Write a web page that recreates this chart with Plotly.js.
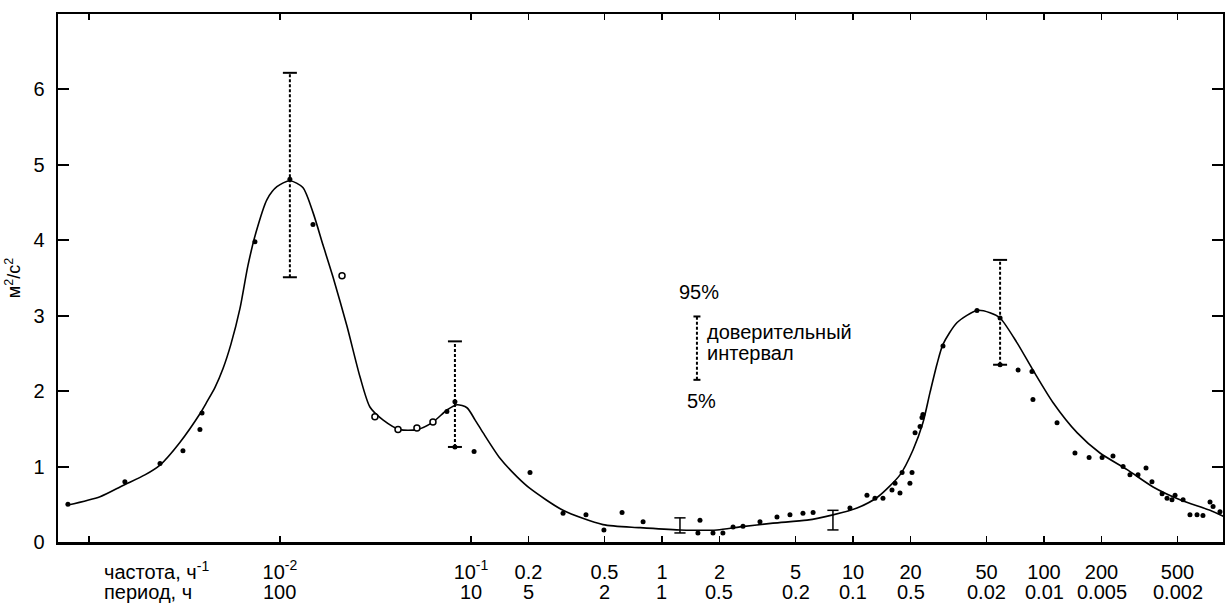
<!DOCTYPE html>
<html><head><meta charset="utf-8">
<script src="https://cdn.plot.ly/plotly-3.0.1.min.js"></script>
<style>html,body{margin:0;padding:0;background:#fff}#chart{width:1225px;height:603px}</style>
</head><body><div id="chart"></div>
<script>
// x axis: frequency, cycles per hour (log scale)
const tickVals = [0.001, 0.01, 0.1, 0.2, 0.5, 1, 2, 5, 10, 20, 50, 100, 200, 500];
const freqLabels = ['', '10<sup>-2</sup>', '10<sup>-1</sup>', '0.2', '0.5', '1', '2', '5', '10', '20', '50', '100', '200', '500'];
const periodLabels = ['', '100', '10', '5', '2', '1', '0.5', '0.2', '0.1', '0.5', '0.02', '0.01', '0.005', '0.002'];
const yTicks = [0, 1, 2, 3, 4, 5, 6];

// smooth spectrum curve
const curveF = [0.000776, 0.001143, 0.001507, 0.001963, 0.002355, 0.002992, 0.003811, 0.004150, 0.004571, 0.005035, 0.005534, 0.006180, 0.006792, 0.007482, 0.008551, 0.009638, 0.01127, 0.01318, 0.01489, 0.01679, 0.01892, 0.02244, 0.02624, 0.02958, 0.03459, 0.04246, 0.05212, 0.06324, 0.07482, 0.08453, 0.09528, 0.1050, 0.1156, 0.1419, 0.1749, 0.2037, 0.3034, 0.4909, 0.7674, 1.242, 1.941, 2.559, 3.811, 5.741, 7.852, 10.50, 13.52, 17.62, 20.61, 23.23, 25.29, 27.54, 29.58, 35.08, 44.57, 52.12, 58.88, 72.28, 87.50, 111.4, 148.9, 196.3, 272.3, 372.4, 515.2, 739.6, 887];
const curveV = [0.49, 0.60, 0.75, 0.89, 1.02, 1.32, 1.70, 1.86, 2.05, 2.30, 2.62, 3.10, 3.66, 4.10, 4.54, 4.71, 4.79, 4.70, 4.37, 3.94, 3.52, 2.86, 2.19, 1.79, 1.62, 1.49, 1.49, 1.59, 1.75, 1.82, 1.78, 1.62, 1.45, 1.11, 0.86, 0.71, 0.42, 0.23, 0.19, 0.16, 0.16, 0.20, 0.25, 0.29, 0.36, 0.45, 0.60, 0.89, 1.22, 1.58, 1.98, 2.36, 2.62, 2.91, 3.07, 3.04, 2.97, 2.64, 2.28, 1.85, 1.45, 1.18, 0.96, 0.73, 0.56, 0.42, 0.33];

// measured spectral estimates (filled)
const pointF = [0.000776, 0.001542, 0.002355, 0.003105, 0.003811, 0.003908, 0.007396, 0.01127, 0.01489, 0.07482, 0.08241, 0.08241, 0.1038, 0.2037, 0.3034, 0.3999, 0.4966, 0.6180, 0.7962, 1.581, 1.542, 1.849, 2.084, 2.355, 2.655, 3.258, 4.000, 4.677, 5.470, 6.180, 9.638, 11.83, 13.03, 14.35, 16.00, 16.60, 17.62, 18.07, 19.86, 20.37, 21.13, 22.44, 22.96, 23.23, 29.58, 44.57, 58.88, 58.88, 73.11, 86.50, 87.50, 117.0, 145.2, 172.2, 201.4, 229.6, 259.4, 281.8, 310.5, 342.0, 367.3, 415.0, 440.6, 467.7, 485.3, 534.6, 580.8, 632.4, 679.2, 739.6, 767.4, 833.7];
const pointV = [0.50, 0.80, 1.04, 1.21, 1.49, 1.71, 3.98, 4.81, 4.21, 1.73, 1.86, 1.26, 1.20, 0.92, 0.38, 0.36, 0.16, 0.39, 0.27, 0.29, 0.12, 0.12, 0.12, 0.20, 0.21, 0.27, 0.33, 0.36, 0.38, 0.39, 0.45, 0.62, 0.58, 0.58, 0.69, 0.78, 0.65, 0.92, 0.78, 0.92, 1.45, 1.53, 1.65, 1.69, 2.60, 3.07, 2.97, 2.35, 2.28, 2.26, 1.89, 1.58, 1.18, 1.12, 1.12, 1.14, 1.00, 0.89, 0.89, 0.98, 0.80, 0.64, 0.58, 0.56, 0.62, 0.56, 0.36, 0.36, 0.35, 0.53, 0.47, 0.40];

// measured spectral estimates (open symbols)
const openF = [0.02113, 0.03141, 0.04150, 0.05212, 0.06324];
const openV = [3.53, 1.66, 1.49, 1.51, 1.59];

// confidence intervals (dashed), incl. the legend bar
const ciF = [0.01127, 0.08241, 58.88, 1.524];
const ciLow = [3.51, 1.26, 2.35, 2.15];
const ciHigh = [6.22, 2.66, 3.74, 2.99];

// small solid interval bars
const barF = [1.242, 7.852];
const barLow = [0.12, 0.16];
const barHigh = [0.32, 0.42];

const FONT = 'Liberation Sans, Arial, sans-serif';
const traces = [];
traces.push({x: curveF, y: curveV, mode: 'lines', line: {color: '#000', width: 1.6, shape: 'spline', smoothing: 0.7}, hoverinfo: 'skip'});
traces.push({x: pointF, y: pointV, mode: 'markers', marker: {color: '#000', size: 5, symbol: 'circle'}, hoverinfo: 'skip'});
traces.push({x: openF, y: openV, mode: 'markers', marker: {color: '#fff', size: 6, symbol: 'circle', line: {color: '#000', width: 1.5}}, hoverinfo: 'skip'});
ciF.forEach((f, i) => {
  traces.push({x: [f, f], y: [ciLow[i], ciHigh[i]], mode: 'lines', line: {color: '#000', width: 2, dash: '3px,2px'}, hoverinfo: 'skip'});
  traces.push({x: [f, f], y: [ciLow[i], ciHigh[i]], mode: 'markers', marker: {symbol: 'line-ew', size: i === 3 ? 5 : 10, line: {color: '#000', width: 2}}, hoverinfo: 'skip'});
});
barF.forEach((f, i) => {
  traces.push({x: [f, f], y: [barLow[i], barHigh[i]], mode: 'lines', line: {color: '#000', width: 1.5}, hoverinfo: 'skip'});
  traces.push({x: [f, f], y: [barLow[i], barHigh[i]], mode: 'markers', marker: {symbol: 'line-ew', size: 8, line: {color: '#000', width: 1.5}}, hoverinfo: 'skip'});
});

const annotations = [];
tickVals.forEach((v, i) => {
  if (!periodLabels[i]) return;
  annotations.push({xref: 'x', yref: 'paper', x: Math.log10(v), y: -0.0956, text: periodLabels[i], showarrow: false, xanchor: 'center', yanchor: 'middle', font: {size: 20, family: FONT, color: '#000'}});
});
annotations.push({xref: 'paper', yref: 'paper', x: 0.0378, y: -0.0545, text: 'частота, ч<sup>-1</sup>', showarrow: false, xanchor: 'left', yanchor: 'middle', font: {size: 20, family: FONT, color: '#000'}});
annotations.push({xref: 'paper', yref: 'paper', x: 0.0378, y: -0.0956, text: 'период, ч', showarrow: false, xanchor: 'left', yanchor: 'middle', font: {size: 20, family: FONT, color: '#000'}});
annotations.push({xref: 'x', yref: 'y', x: 0.194, y: 3.31, text: '95%', showarrow: false, xanchor: 'center', yanchor: 'middle', font: {size: 20, family: FONT, color: '#000'}});
annotations.push({xref: 'x', yref: 'y', x: 0.209, y: 1.87, text: '5%', showarrow: false, xanchor: 'center', yanchor: 'middle', font: {size: 20, family: FONT, color: '#000'}});
annotations.push({xref: 'x', yref: 'y', x: 0.225, y: 2.78, text: 'доверительный', showarrow: false, xanchor: 'left', yanchor: 'middle', font: {size: 20, family: FONT, color: '#000'}});
annotations.push({xref: 'x', yref: 'y', x: 0.225, y: 2.50, text: 'интервал', showarrow: false, xanchor: 'left', yanchor: 'middle', font: {size: 20, family: FONT, color: '#000'}});

const layout = {
  width: 1225, height: 603,
  margin: {l: 58, r: 2, t: 14, b: 61},
  paper_bgcolor: '#fff', plot_bgcolor: '#fff',
  showlegend: false,
  font: {family: FONT, size: 20, color: '#000'},
  xaxis: {
    type: 'log', range: [-3.162, 2.937],
    tickmode: 'array', tickvals: tickVals, ticktext: freqLabels,
    ticks: 'inside', ticklen: 6, tickwidth: 1.5, tickcolor: '#000',
    showline: true, linecolor: '#000', linewidth: 2.5, mirror: 'allticks',
    showgrid: false, zeroline: false, ticklabelstandoff: 10,
    tickfont: {size: 20, family: FONT, color: '#000'}
  },
  yaxis: {
    range: [0, 7], tickmode: 'array', tickvals: yTicks,
    ticks: 'inside', ticklen: 11, tickwidth: 2, tickcolor: '#000',
    showline: true, linecolor: '#000', linewidth: 2.5, mirror: 'allticks',
    showgrid: false, zeroline: false, ticklabelstandoff: 7,
    tickfont: {size: 20, family: FONT, color: '#000'},
    title: {text: 'м<sup>2</sup>/с<sup>2</sup>', font: {size: 18, family: FONT, color: '#000'}, standoff: 8}
  },
  annotations: annotations
};
Plotly.newPlot('chart', traces, layout, {staticPlot: true, displayModeBar: false});
</script></body></html>
